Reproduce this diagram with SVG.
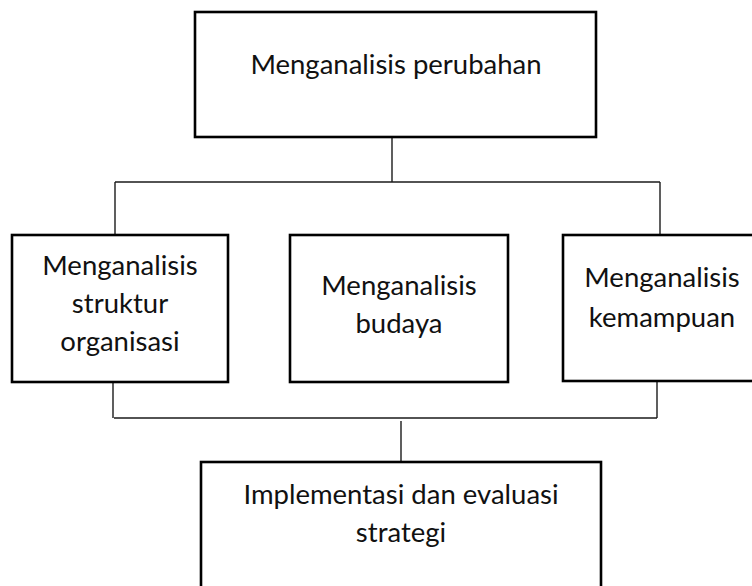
<svg xmlns="http://www.w3.org/2000/svg" width="752" height="586" viewBox="0 0 752 586">
<style>
.box{fill:#fff;stroke:#000;stroke-width:2.6}
.t{font-family:Lato,"Open Sans","Liberation Sans",sans-serif;font-size:27.5px;fill:#111;text-anchor:middle}
.c{stroke:#1a1a1a;stroke-width:1.4;fill:none}
</style>
<rect width="752" height="586" fill="#fff"/>
<g id="connectors">
<line class="c" x1="392" y1="137" x2="392" y2="182"/>
<line class="c" x1="115" y1="182" x2="660" y2="182"/>
<line class="c" x1="115" y1="182" x2="115" y2="235"/>
<line class="c" x1="660" y1="182" x2="660" y2="235"/>
<line class="c" x1="113" y1="382" x2="113" y2="418"/>
<line class="c" x1="657" y1="381" x2="657" y2="418"/>
<line class="c" x1="114" y1="418" x2="657" y2="418"/>
<line class="c" x1="401" y1="421" x2="401" y2="462"/>
</g>
<g id="n-perubahan">
<rect class="box" x="195" y="12" width="401" height="125"/>
<text class="t" x="396" y="74">Menganalisis perubahan</text>
</g>
<g id="n-struktur">
<rect class="box" x="12" y="235" width="216" height="147"/>
<text class="t" x="120" y="275">Menganalisis</text>
<text class="t" x="120" y="313">struktur</text>
<text class="t" x="120" y="351">organisasi</text>
</g>
<g id="n-budaya">
<rect class="box" x="290" y="235" width="218" height="147"/>
<text class="t" x="399" y="295">Menganalisis</text>
<text class="t" x="399" y="333">budaya</text>
</g>
<g id="n-kemampuan">
<rect class="box" x="563" y="235" width="200" height="146"/>
<text class="t" x="662" y="287">Menganalisis</text>
<text class="t" x="662" y="327">kemampuan</text>
</g>
<g id="n-implementasi">
<rect class="box" x="201" y="462" width="400" height="140"/>
<text class="t" x="401" y="504">Implementasi dan evaluasi</text>
<text class="t" x="401" y="542">strategi</text>
</g>
</svg>
